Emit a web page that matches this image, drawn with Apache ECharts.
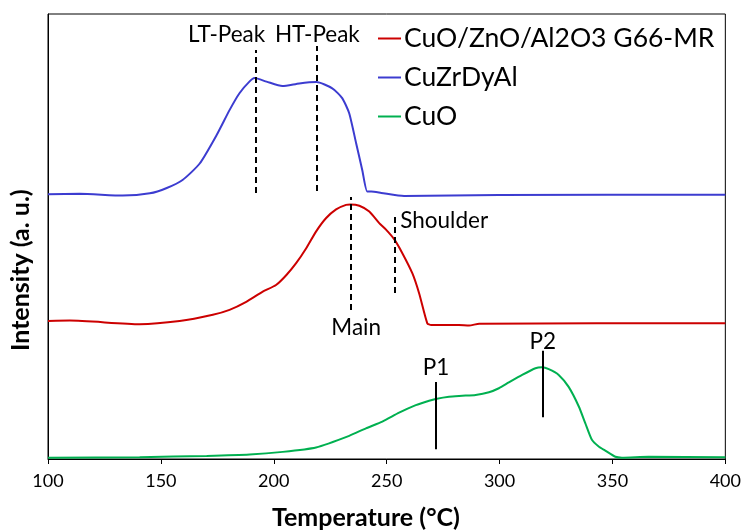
<!DOCTYPE html>
<html>
<head>
<meta charset="utf-8">
<script src="https://cdn.jsdelivr.net/npm/echarts@6/dist/echarts.min.js"></script>
<style>
  html, body { margin: 0; padding: 0; background: #fff; }
  #chart { width: 744px; height: 532px; }
</style>
</head>
<body>
<div id="chart"></div>
<script>
// TPR profiles, temperature in °C, intensity in arbitrary units (stacked offsets)
const tempRed = [100, 109.7, 140.6, 158.3, 173.0, 180.4, 187.8, 195.1, 201.0, 205.5, 209.9, 214.3, 218.7, 223.1, 227.6, 232.0, 234.0, 237.9, 242.3, 246.7, 249.6, 253.3, 257.0, 261.4, 264.4, 268.0, 269.7, 282.0, 286.5, 291, 400];
const intRed  = [31.0, 31.1, 30.3, 31.0, 32.4, 33.5, 35.3, 37.6, 39.1, 41.3, 44.0, 47.3, 51.1, 54.1, 56.1, 57.1, 57.2, 56.9, 55.6, 53.0, 51.6, 49.4, 46.2, 41.7, 37.2, 30.5, 30.1, 30.1, 30.0, 30.4, 30.5];

const tempBlue = [100, 114.1, 133.1, 145.1, 152.6, 159.6, 167.2, 174.7, 180.4, 184.8, 189.2, 191.5, 196.8, 203.8, 211.3, 218.9, 225.9, 230.3, 233.4, 236.5, 239.2, 241.4, 243.2, 247.6, 257.7, 299.7, 400];
const intBlue  = [59.5, 59.6, 59.2, 59.7, 60.9, 62.7, 66.4, 72.8, 78.4, 82.2, 84.8, 85.6, 84.8, 83.8, 84.4, 84.7, 83.3, 81.1, 77.7, 70.9, 64.9, 60.1, 60.1, 59.8, 59.1, 59.3, 59.4];

const tempGreen = [100, 140.6, 170.3, 189.3, 204.0, 218.7, 233.4, 240.8, 248.1, 255.5, 262.9, 268.8, 271.7, 277.6, 283.5, 289.4, 295.3, 299.7, 304.1, 310.0, 315.9, 318.8, 321.8, 326.2, 330.6, 335.1, 338.0, 340.9, 343.9, 346.8, 351.3, 354.2, 366.0, 400];
const intGreen  = [0.3, 0.4, 0.7, 1.0, 1.6, 2.6, 5.2, 6.9, 8.4, 10.4, 12.1, 13.1, 13.5, 14.0, 14.2, 14.4, 15.0, 15.9, 17.2, 18.9, 20.4, 20.6, 20.2, 18.9, 16.2, 11.8, 8.0, 4.3, 2.8, 1.9, 0.5, 0.3, 0.5, 0.4];

// marker lines: temperature, bottom, top, dashed?
const markT      = [191.9, 218.9, 233.9, 253.8, 271.9, 319.1];
const markBottom = [59.8, 60.2, 33.5, 37.3, 2.2, 9.4];
const markTop    = [91.9, 92.8, 58.9, 54.8, 17.3, 24.3];
const markDashed = [true, true, true, true, false, false];

// marker labels
const labelText = ['LT-Peak', 'HT-Peak', 'Main', 'Shoulder', 'P1', 'P2'];
const labelT    = [179.1, 219.3, 236.5, 256.0, 271.9, 319.1];
const labelI    = [95.3, 95.3, 29.4, 53.5, 20.4, 26.3];

const xTicks = [100, 150, 200, 250, 300, 350, 400];

const zip = (xs, ys) => xs.map((x, i) => [x, ys[i]]);
const font = 'Lato, "DejaVu Sans", sans-serif';

const lineSeries = (name, color, xs, ys) => ({
  name: name,
  type: 'line',
  data: zip(xs, ys),
  showSymbol: false,
  smooth: 0.2,
  color: color,
  lineStyle: { width: 2, color: color },
  silent: true
});

const chart = echarts.init(document.getElementById('chart'));
chart.setOption({
  animation: false,
  grid: { left: 48, right: 17, top: 14, bottom: 73, show: true, borderColor: '#000', borderWidth: 1 },
  legend: {
    orient: 'vertical',
    left: 378,
    top: 19,
    padding: 0,
    icon: 'rect',
    itemWidth: 23,
    itemHeight: 2,
    itemGap: 0,
    data: ['CuO/ZnO/Al2O3 G66-MR', 'CuZrDyAl', 'CuO'],
    textStyle: { fontFamily: font, fontSize: 26.5, color: '#000', lineHeight: 39, padding: [0, 0, 0, -2] }
  },
  xAxis: {
    type: 'value',
    min: xTicks[0],
    max: xTicks[xTicks.length - 1],
    interval: 50,
    axisLine: { lineStyle: { color: '#000', width: 1 } },
    axisTick: { inside: false, length: 5, lineStyle: { color: '#000' } },
    axisLabel: { fontFamily: font, fontSize: 18, color: '#000', margin: 13 },
    splitLine: { show: false }
  },
  yAxis: {
    type: 'value',
    min: 0,
    max: 100,
    axisLine: { show: true, lineStyle: { color: '#000', width: 1 } },
    axisTick: { show: false },
    axisLabel: { show: false },
    splitLine: { show: false }
  },
  graphic: [
    {
      type: 'text', left: 272, top: 505,
      style: { text: 'Temperature (°C)', font: 'bold 25px ' + font, fill: '#000' }
    },
    {
      type: 'text', x: 8, y: 351, rotation: Math.PI / 2,
      style: { text: 'Intensity (a. u.)', font: 'bold 25px ' + font, fill: '#000', textVerticalAlign: 'top' }
    }
  ],
  series: [
    lineSeries('CuO/ZnO/Al2O3 G66-MR', '#cc0000', tempRed, intRed),
    lineSeries('CuZrDyAl', '#3c3cd0', tempBlue, intBlue),
    lineSeries('CuO', '#00b050', tempGreen, intGreen),
    {
      name: 'markers',
      type: 'line',
      data: [],
      silent: true,
      markLine: {
        silent: true,
        symbol: 'none',
        label: { show: false },
        data: markT.map((t, i) => [
          { coord: [t, markBottom[i]], lineStyle: { color: '#000', width: 2, type: markDashed[i] ? [6, 4] : 'solid' } },
          { coord: [t, markTop[i]] }
        ])
      }
    },
    {
      name: 'labels',
      type: 'scatter',
      symbolSize: 0,
      silent: true,
      itemStyle: { opacity: 1 },
      data: labelText.map((s, i) => ({ value: [labelT[i], labelI[i]], name: s })),
      label: {
        show: true,
        position: 'inside',
        formatter: p => p.name,
        fontFamily: font,
        fontSize: 22.5,
        color: '#000'
      },
      labelLayout: p => (p.dataIndex === 3 ? { align: 'left' } : {})
    }
  ]
});
</script>
</body>
</html>
